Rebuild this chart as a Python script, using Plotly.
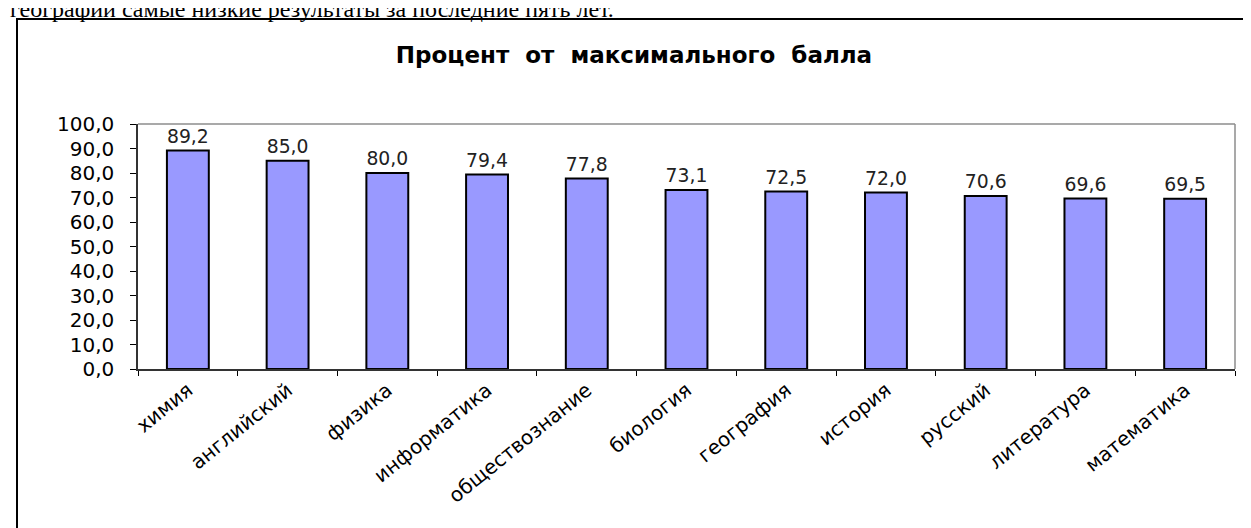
import plotly.graph_objects as go

categories = ["химия", "английский", "физика", "информатика", "обществознание",
              "биология", "география", "история", "русский", "литература", "математика"]
values = [89.2, 85.0, 80.0, 79.4, 77.8, 73.1, 72.5, 72.0, 70.6, 69.6, 69.5]
y_ticks = [0, 10, 20, 30, 40, 50, 60, 70, 80, 90, 100]
title_text = "Процент  от  максимального  балла"
page_text = "географии самые низкие результаты за последние пять лет."

W, H = 1251, 528
L, R, T, B = 130, 24, 116, 167
pw, ph = W - L - R, H - T - B

def px_x(px):
    return (px - L) / pw

def px_y(py):
    return (H - B - py) / ph

labels = [f"{v:.1f}".replace(".", ",") for v in values]

fig = go.Figure(go.Bar(
    x=categories, y=values,
    text=labels, textposition="outside", cliponaxis=False,
    textfont=dict(family="DejaVu Sans", size=20, color="#222222"),
    marker=dict(color="#9999FF", line=dict(color="#000000", width=2)),
    width=0.42,
))

fig.update_layout(
    width=W, height=H,
    margin=dict(l=L, r=R, t=T, b=B, autoexpand=False),
    paper_bgcolor="white", plot_bgcolor="white",
    separators=", ",
    showlegend=False,
    title=dict(text=title_text, x=626 / W, xanchor="center", y=1 - 47 / H, yanchor="middle",
               font=dict(family="DejaVu Sans", size=23, color="#000000", weight="bold")),
    xaxis=dict(
        tickangle=-39, tickson="boundaries", ticks="outside", ticklen=5, tickcolor="#000000",
        showline=True, linecolor="#333333", linewidth=1.5, showgrid=False,
        tickfont=dict(family="DejaVu Sans", size=20, color="#000000"),
        ticklabelstandoff=0,
    ),
    yaxis=dict(
        range=[0, 100], tickvals=y_ticks, tickformat=".1f", ticks="outside", ticklen=6,
        tickcolor="#000000", showline=True, linecolor="#333333", linewidth=1.5, showgrid=False,
        tickfont=dict(family="DejaVu Sans", size=20, color="#000000"),
        ticklabelstandoff=12, zeroline=False,
    ),
    shapes=[
        dict(type="line", xref="paper", yref="paper", x0=0, x1=1, y0=1, y1=1,
             line=dict(color="#8c8c8c", width=1.5)),
        dict(type="line", xref="paper", yref="paper", x0=1, x1=1, y0=0, y1=1,
             line=dict(color="#8c8c8c", width=1.5)),
        dict(type="rect", xref="paper", yref="paper", x0=px_x(9), x1=px_x(1300),
             y0=px_y(600), y1=px_y(11), line=dict(color="#000000", width=2)),
    ],
    annotations=[
        dict(text=page_text, xref="paper", yref="paper", x=px_x(0), xanchor="left",
             y=px_y(1), yanchor="middle", showarrow=False,
             font=dict(family="Liberation Serif", size=24, color="#000000")),
    ],
)

fig.write_html("out.html")
